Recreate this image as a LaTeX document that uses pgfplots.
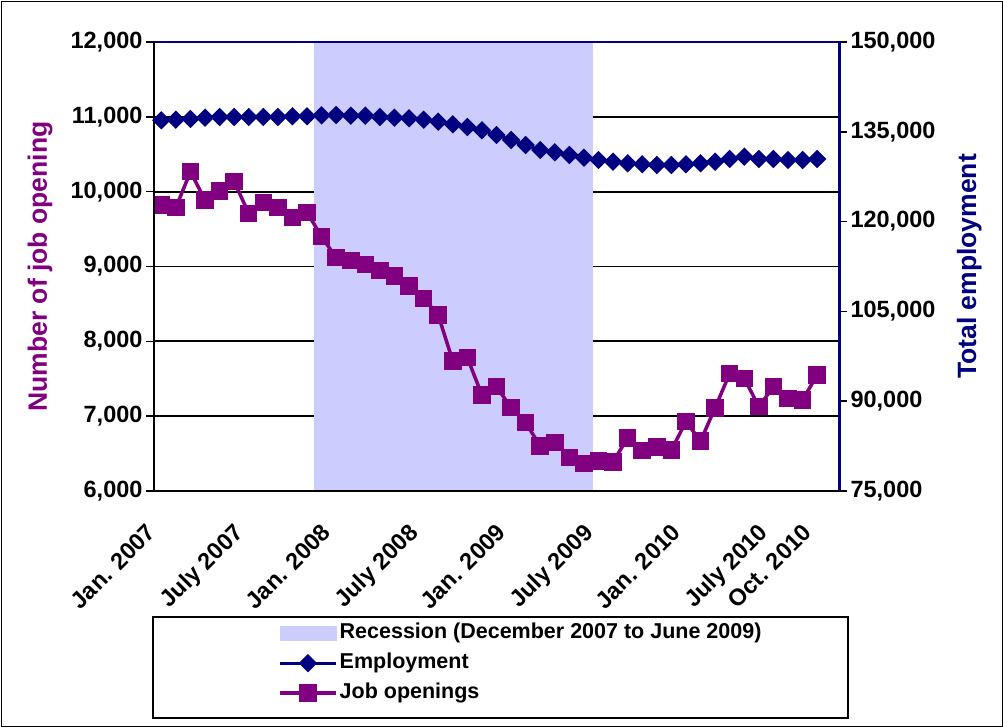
\documentclass[border=0pt]{standalone}
\usepackage{fontspec}
\setmainfont{Liberation Sans}
\usepackage{pgfplots}
\usepackage{pgfplotstable}
\pgfplotsset{compat=1.18}
\definecolor{navyc}{HTML}{000080}
\definecolor{jpurple}{HTML}{800080}
\definecolor{recess}{HTML}{CCCCFF}

\pgfplotstableread{
x jo
0 9822
1 9786
2 10267
3 9889
4 10009
5 10134
6 9711
7 9858
8 9786
9 9653
10 9724
11 9398
12 9118
13 9078
14 9030
15 8944
16 8873
17 8740
18 8575
19 8352
20 7737
21 7782
22 7283
23 7394
24 7113
25 6913
26 6601
27 6645
28 6450
29 6370
30 6401
31 6390
32 6710
33 6540
34 6590
35 6550
36 6926
37 6668
38 7110
39 7573
40 7506
41 7127
42 7394
43 7239
44 7216
45 7550
}\jobdata

\pgfplotstableread{
x emp
0 136923
1 137023
2 137139
3 137357
4 137473
5 137473
6 137473
7 137473
8 137473
9 137590
10 137590
11 137750
12 137807
13 137690
14 137690
15 137473
16 137357
17 137256
18 137023
19 136689
20 136254
21 135800
22 135250
23 134466
24 133631
25 132796
26 131961
27 131577
28 131125
29 130675
30 130290
31 130007
32 129740
33 129573
34 129455
35 129455
36 129573
37 129740
38 130007
39 130458
40 130842
41 130458
42 130458
43 130290
44 130290
45 130458
}\empdata

\newcommand{\tickfont}{\bfseries\fontsize{23.5}{25}\selectfont}
\newcommand{\titlefont}{\bfseries\fontsize{26.5}{28}\selectfont}
\newcommand{\legfont}{\bfseries\fontsize{21.5}{23}\selectfont}
\tikzset{xlab/.style={rotate=45, anchor=east, inner sep=0pt, text height=0.75em, text depth=0.2em, font=\tickfont}}

\begin{document}
\begin{tikzpicture}[x=1pt,y=1pt]
\useasboundingbox (0,0) rectangle (1004,728);
\draw[line width=1.5pt] (1.5,1.5) rectangle (1002.5,726.5);
\draw[line width=1.5pt] (153,10) rectangle (848,111);

\begin{axis}[
  at={(154pt,237pt)}, anchor=south west,
  scale only axis, width=685pt, height=449pt, clip=false,
  xmin=-0.5, xmax=46.5, ymin=6000, ymax=12000,
  axis x line*=bottom, axis y line*=left,
  x axis line style={black, line width=2.5pt},
  y axis line style={black, line width=2.5pt},
  ytick={6000,7000,...,12000},
  ymajorgrids, grid style={black, line width=1.8pt},
  ytick style={black, line width=1.5pt},
  tick align=outside, major tick length=8pt,
  xtick=\empty,
  yticklabel style={font=\tickfont, /pgf/number format/fixed, /pgf/number format/1000 sep={,}, /pgf/number format/assume math mode=true},
  scaled y ticks=false,
  ylabel={Number of job opening},
  ylabel style={font=\titlefont, text=jpurple, at={(axis description cs:-0.1664,0.5)}, anchor=center},
]
\addplot[fill=recess, draw=none] coordinates {(10.48,6000) (29.64,6000) (29.64,12000) (10.48,12000)} -- cycle;
\addplot[jpurple, line width=3.5pt, mark=square*, mark size=7pt, mark options={solid}] table[x=x, y=jo] {\jobdata};
\path (axis cs:0,6000) ++(-6pt,-41pt) node[xlab] {Jan. 2007};
\path (axis cs:6,6000) ++(-6pt,-41pt) node[xlab] {July 2007};
\path (axis cs:12,6000) ++(-6pt,-41pt) node[xlab] {Jan. 2008};
\path (axis cs:18,6000) ++(-6pt,-41pt) node[xlab] {July 2008};
\path (axis cs:24,6000) ++(-6pt,-41pt) node[xlab] {Jan. 2009};
\path (axis cs:30,6000) ++(-6pt,-41pt) node[xlab] {July 2009};
\path (axis cs:36,6000) ++(-6pt,-41pt) node[xlab] {Jan. 2010};
\path (axis cs:42,6000) ++(-6pt,-41pt) node[xlab] {July 2010};
\path (axis cs:45,6000) ++(-6pt,-41pt) node[xlab] {Oct. 2010};
\end{axis}

\begin{axis}[
  at={(154pt,237pt)}, anchor=south west,
  scale only axis, width=685pt, height=449pt, clip=false,
  xmin=-0.5, xmax=46.5, ymin=75000, ymax=150000,
  axis x line*=top, axis y line*=right,
  x axis line style={navyc, line width=2.5pt},
  y axis line style={navyc, line width=3pt},
  xtick=\empty,
  ytick={75000,90000,...,150000},
  ytick style={black, line width=1.5pt},
  tick align=outside, major tick length=8pt,
  yticklabel style={font=\tickfont, /pgf/number format/fixed, /pgf/number format/1000 sep={,}, /pgf/number format/assume math mode=true},
  scaled y ticks=false,
  ylabel={Total employment},
  ylabel style={font=\titlefont, text=navyc, at={(axis description cs:1.19,0.5)}, anchor=center},
  legend style={draw=none, fill=none, inner sep=0pt, at={(0.181,-0.2895)}, anchor=north west,
    font=\legfont, row sep=6pt, nodes={text height=15pt, text depth=5pt, inner sep=2pt}},
  legend cell align=left,
  legend image code/.code={\draw[mark repeat=2, mark phase=2] plot coordinates {(0pt,0pt) (28pt,0pt) (56pt,0pt)};},
]
\addlegendimage{legend image code/.code={\fill[recess] (0pt,-7pt) rectangle (56pt,7pt);}}
\addlegendentry{Recession (December 2007 to June 2009)}
\addplot[navyc, line width=3pt, mark=square*, mark size=5pt, mark options={solid, rotate=45}] table[x=x, y=emp] {\empdata};
\addlegendentry{Employment}
\addlegendimage{jpurple, line width=3.5pt, mark=square*, mark size=7pt, mark options={solid}}
\addlegendentry{Job openings}
\draw[black, line width=2.5pt] (rel axis cs:0,0) -- (rel axis cs:1,0);
\draw[black, line width=2.5pt] (rel axis cs:0,0) -- (rel axis cs:0,1);
\draw[navyc, line width=3pt] (rel axis cs:1,0) -- (rel axis cs:1,1);
\end{axis}
\end{tikzpicture}
\end{document}
